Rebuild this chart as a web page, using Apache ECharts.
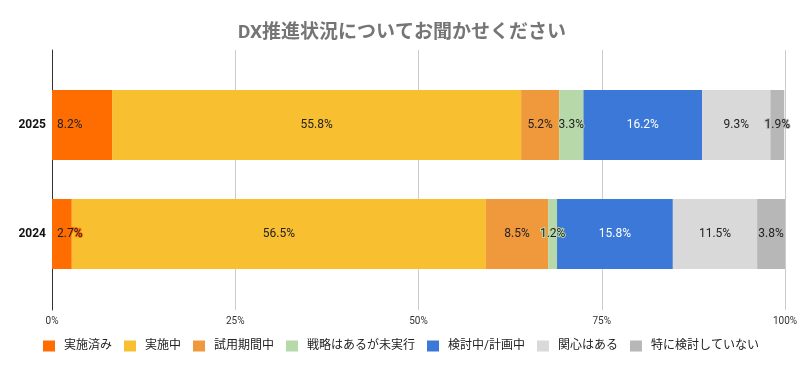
<!DOCTYPE html>
<html><head><meta charset="utf-8">
<script src="https://cdn.jsdelivr.net/npm/echarts@6/dist/echarts.min.js"></script>
<style>html,body{margin:0;padding:0;background:#fff}#c{width:804px;height:371px}</style>
</head><body><div id="c"></div>
<script>
const titleText = 'DX推進状況についてお聞かせください';
const categories = ['2024', '2025'];
const seriesNames = ['実施済み', '実施中', '試用期間中', '戦略はあるが未実行', '検討中/計画中', '関心はある', '特に検討していない'];
const v実施済み = [2.7, 8.2];
const v実施中 = [56.5, 55.8];
const v試用期間中 = [8.5, 5.2];
const v戦略 = [1.2, 3.3];
const v検討中 = [15.8, 16.2];
const v関心 = [11.5, 9.3];
const v特に = [3.8, 1.9];
const xTicks = [0, 25, 50, 75, 100];

const values = [v実施済み, v実施中, v試用期間中, v戦略, v検討中, v関心, v特に];
const colors = ['#FF6D01', '#F8BF31', '#F0983C', '#B7D8A8', '#3C78D8', '#D9D9D9', '#B7B7B7'];
const labelColors = ['#222', '#222', '#222', '#222', '#fff', '#222', '#222'];
const FONT = 'Roboto, "Noto Sans CJK JP", sans-serif';

const chart = echarts.init(document.getElementById('c'));
const series = seriesNames.map((n, i) => ({
  name: n, type: 'bar', stack: 'total', xAxisIndex: 1, yAxisIndex: 1,
  barWidth: 70,
  itemStyle: { color: colors[i] },
  label: {
    show: true,
    position: i === 0 ? 'insideLeft' : 'inside',
    distance: 5,
    formatter: p => p.value.toFixed(1) + '%',
    color: labelColors[i], fontSize: 12, fontFamily: FONT,
    textBorderColor: colors[i], textBorderWidth: i === 4 ? 0 : 2
  },
  emphasis: { disabled: true },
  data: values[i]
}));

chart.setOption({
  animation: false,
  textStyle: { fontFamily: FONT },
  title: {
    text: titleText, left: 'center', top: 19,
    textStyle: { fontSize: 19, fontWeight: 'bold', color: '#757575', fontFamily: FONT }
  },
  legend: {
    data: seriesNames, left: 38, top: 335, itemWidth: 12, itemHeight: 11, itemGap: 12,
    icon: 'rect',
    textStyle: { fontSize: 12, color: '#222', fontFamily: FONT, padding: [0, 0, 0, 4] }
  },
  grid: [
    { left: 52, right: 19, top: 50, bottom: 61 },
    { left: 52, right: 19, top: 70.5, bottom: 82.5 }
  ],
  xAxis: [
    { type: 'value', gridIndex: 0, min: xTicks[0], max: xTicks[xTicks.length - 1], interval: 25,
      axisLine: { show: false }, axisTick: { show: false },
      splitLine: { lineStyle: { color: '#CCCCCC' } },
      axisLabel: { formatter: v => v + '%', fontSize: 10, color: '#333', margin: 6 } },
    { type: 'value', gridIndex: 1, min: 0, max: 100, show: false }
  ],
  yAxis: [
    { type: 'category', gridIndex: 0, data: categories,
      axisLine: { show: true, lineStyle: { color: '#333' } },
      axisTick: { show: false }, axisLabel: { show: false } },
    { type: 'category', gridIndex: 1, data: categories,
      axisLine: { show: false }, axisTick: { show: false },
      axisLabel: { fontSize: 12, fontWeight: 'bold', color: '#111', margin: 6 } }
  ],
  series: series
});
</script></body></html>
